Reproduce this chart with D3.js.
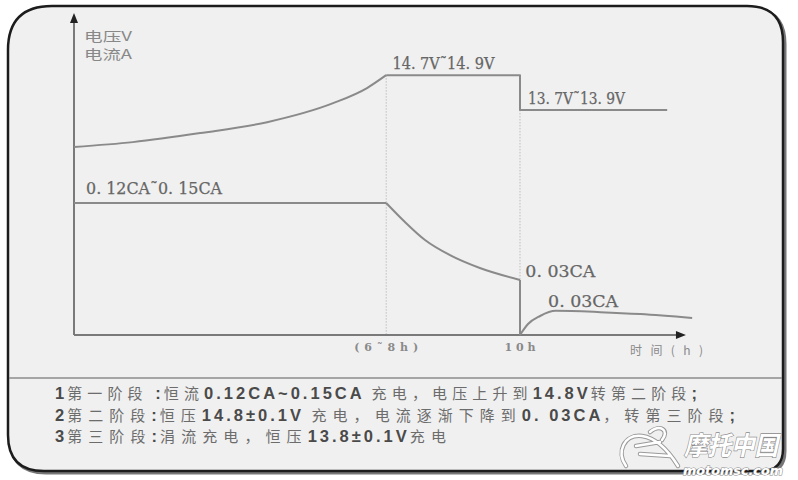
<!DOCTYPE html>
<html><head><meta charset="utf-8">
<script src="https://cdn.jsdelivr.net/npm/d3@7"></script>
<style>
html,body{margin:0;padding:0;background:#fff;}
svg{display:block;}
</style></head>
<body>
<svg id="c" width="798" height="480"></svg>
<script>
// ---- data ----
const voltageRiseT = [0, 1.32, 2.83, 4.33, 5.81, 6.57, 7];
const voltageRiseV = [58.4, 59.9, 62.7, 66.1, 72.0, 76.7, 80.7];
const voltageStepT = [7, 10, 10, 13.3];
const voltageStepV = [80.7, 80.7, 69.9, 69.9];
const currentFlatT = [0, 7];
const currentFlatV = [41, 41];
const currentDecayT = [7, 7.42, 7.87, 8.43, 9.1, 10];
const currentDecayV = [41, 35.1, 29.5, 24.8, 20.8, 17.1];
const currentDropT = [10, 10];
const currentDropV = [17.1, 0];
const trickleT = [10, 10.18, 10.45, 10.8, 11.8, 12.7, 13.86];
const trickleV = [0, 3.4, 5.9, 7.5, 7.1, 6.5, 5.3];
const tickTimes = [7, 10];
const tickLabels = ["(6˜8h)", "10h"];
const seriesLabels = [
  {text: "14. 7V˜14. 9V", t: 7.14, v: 80.7, w: 102, dy: -6},
  {text: "13. 7V˜13. 9V", t: 10.18, v: 69.9, w: 97, dy: -6},
  {text: "0. 12CA˜0. 15CA", t: 0.27, v: 41, w: 136, dy: -9},
  {text: "0. 03CA", t: 10.12, v: 17.1, w: 70, dy: -3},
  {text: "0. 03CA", t: 10.63, v: 7.5, w: 70, dy: -4}
];
const yTitle = ["电压V", "电流A"];
const xTitle = "时间(h)";
const notes = [
  "1第一阶段 :恒流0.12CA~0.15CA 充电，电压上升到14.8V转第二阶段;",
  "2第二阶段:恒压14.8±0.1V 充电，电流逐渐下降到0. 03CA，转第三阶段;",
  "3第三阶段:涓流充电，恒压13.8±0.1V充电"
];

// ---- layout ----
const svg = d3.select("#c");
const x = d3.scaleLinear().domain([0, 10]).range([74, 520]);
const y = d3.scaleLinear().domain([0, 100]).range([335, 13]);

// frame
const L = 8, R = 783, T = 6, B = 471;
function framePath(dx, dy) {
  const rtl = 44, rtr = 36, rbr = 22, rbl = 36;
  const l = L + dx, r = R + dx, t = T + dy, b = B + dy;
  return `M${l + rtl},${t} L${r - rtr},${t} Q${r},${t} ${r},${t + rtr} L${r},${b - rbr} Q${r},${b} ${r - rbr},${b} L${l + rbl},${b} Q${l},${b} ${l},${b - rbl} L${l},${t + rtl} Q${l},${t} ${l + rtl},${t} Z`;
}
svg.append("path").attr("d", framePath(2, 2)).attr("fill", "none").attr("stroke", "#777").attr("stroke-width", 3);
svg.append("path").attr("d", framePath(0, 0)).attr("fill", "#f0f0f0").attr("stroke", "#1c1c1c").attr("stroke-width", 2.5);
svg.append("line").attr("x1", L + 1).attr("x2", R - 1).attr("y1", 378).attr("y2", 378)
  .attr("stroke", "#8c8c8c").attr("stroke-width", 1.6);

const g = svg.append("g");

// dotted guides
const guides = [[7, 80.7], [10, 69.9]];
guides.forEach(([t, v]) => {
  g.append("line").attr("x1", x(t)).attr("x2", x(t)).attr("y1", y(v)).attr("y2", y(0))
    .attr("stroke", "#bdbdbd").attr("stroke-width", 1).attr("stroke-dasharray", "1.5,1.5");
});

// axes
const axisColor = "#7a7a7a";
const xEnd = 13.72;
g.append("line").attr("x1", x(0)).attr("x2", x(xEnd) - 8).attr("y1", y(0)).attr("y2", y(0))
  .attr("stroke", axisColor).attr("stroke-width", 2);
g.append("path").attr("d", `M${x(xEnd)},${y(0)} L${x(xEnd) - 10},${y(0) - 4} L${x(xEnd) - 10},${y(0) + 4} Z`).attr("fill", "#222");
g.append("line").attr("x1", x(0)).attr("x2", x(0)).attr("y1", y(0)).attr("y2", y(100) + 8)
  .attr("stroke", axisColor).attr("stroke-width", 2);
g.append("path").attr("d", `M${x(0)},${y(100)} L${x(0) - 4},${y(100) + 10} L${x(0) + 4},${y(100) + 10} Z`).attr("fill", "#222");

// lines
const lineColor = "#8a8a8a";
function draw(ts, vs, curve) {
  const pts = ts.map((t, i) => [t, vs[i]]);
  g.append("path").datum(pts)
    .attr("d", d3.line().x(d => x(d[0])).y(d => y(d[1])).curve(curve))
    .attr("fill", "none").attr("stroke", lineColor).attr("stroke-width", 2)
    .attr("stroke-linejoin", "round");
}
draw(voltageRiseT, voltageRiseV, d3.curveMonotoneX);
draw(voltageStepT, voltageStepV, d3.curveLinear);
draw(currentFlatT, currentFlatV, d3.curveLinear);
draw(currentDecayT, currentDecayV, d3.curveMonotoneX);
draw(currentDropT, currentDropV, d3.curveLinear);
draw(trickleT, trickleV, d3.curveMonotoneX);

// series labels
const labelFont = "'DejaVu Serif','Liberation Serif',serif";
seriesLabels.forEach(s => {
  g.append("text").attr("x", x(s.t)).attr("y", y(s.v) + s.dy)
    .attr("textLength", s.w).attr("lengthAdjust", "spacingAndGlyphs")
    .attr("font-family", labelFont).attr("font-size", 16).attr("fill", "#666")
    .attr("stroke", "#666").attr("stroke-width", 0.25)
    .text(s.text);
});

// tick labels
tickTimes.forEach((t, i) => {
  g.append("text").attr("x", x(t)).attr("y", 351).attr("text-anchor", "middle")
    .attr("textLength", i === 0 ? 64 : 31).attr("lengthAdjust", "spacing")
    .attr("font-family", labelFont).attr("font-weight", "bold").attr("font-size", 11).attr("fill", "#8a8a8a")
    .text(tickLabels[i]);
});
g.append("text").attr("x", 630).attr("y", 355)
  .attr("textLength", 73).attr("lengthAdjust", "spacing")
  .attr("font-family", "'Noto Sans CJK SC',sans-serif").attr("font-size", 12).attr("fill", "#8a8a8a")
  .text(xTitle);
yTitle.forEach((s, i) => {
  g.append("text").attr("x", 84).attr("y", 41 + i * 18)
    .attr("textLength", 48).attr("lengthAdjust", "spacingAndGlyphs")
    .attr("font-family", "'Noto Sans CJK SC',sans-serif").attr("font-size", 13).attr("fill", "#888")
    .text(s);
});

// notes
const noteWidths = [645, 683, 397];
const noteBase = [399, 421, 442];
notes.forEach((line, i) => {
  const t = svg.append("text").attr("x", 55).attr("y", noteBase[i]);
  const parts = line.match(/[\x20-\x7e±]+|[^\x20-\x7e±]+/g);
  const spans = parts.map(p => {
    const latin = /^[\x20-\x7e±]+$/.test(p);
    const ts = t.append("tspan").text(p)
      .attr("font-family", latin ? "'Liberation Sans',Arial,sans-serif" : "'Noto Sans CJK SC',sans-serif")
      .attr("font-weight", latin ? "bold" : "normal")
      .attr("font-size", latin ? 16.5 : 15)
      .attr("letter-spacing", latin ? 3 : 0)
      .attr("fill", latin ? "#4a4a4a" : "#6c6c6c");
    return {ts, latin, n: p.length};
  });
  const natural = t.node().getComputedTextLength();
  const nCjk = d3.sum(spans.filter(s => !s.latin), s => s.n);
  const extra = Math.max(0, (noteWidths[i] - natural) / nCjk);
  spans.filter(s => !s.latin).forEach(s => s.ts.attr("letter-spacing", extra));
});

// watermark
const wm = svg.append("g");
wm.append("text").attr("x", 684).attr("y", 455).attr("textLength", 94).attr("lengthAdjust", "spacingAndGlyphs")
  .attr("font-family", "'Noto Sans CJK SC',sans-serif").attr("font-weight", "bold").attr("font-style", "italic")
  .attr("font-size", 26).attr("fill", "#fff").attr("stroke", "#8a8a8a").attr("stroke-width", 1.2).attr("paint-order", "stroke")
  .text("摩托中国");
wm.append("text").attr("x", 683).attr("y", 475).attr("textLength", 100).attr("lengthAdjust", "spacingAndGlyphs")
  .attr("font-family", "'DejaVu Sans',sans-serif").attr("font-weight", "bold").attr("font-style", "italic")
  .attr("font-size", 12).attr("fill", "#fff").attr("stroke", "#8a8a8a").attr("stroke-width", 1).attr("paint-order", "stroke")
  .text("motomsc.com");
const logo = "M626,466 C616,452 624,434 642,436 C656,438 668,450 678,466 M636,446 L660,442 M640,454 L670,456 M650,432 C660,424 670,430 662,440";
wm.append("path").attr("d", logo)
  .attr("fill", "none").attr("stroke", "#9a9a9a").attr("stroke-width", 4.5).attr("stroke-linecap", "round");
wm.append("path").attr("d", logo)
  .attr("fill", "none").attr("stroke", "#fff").attr("stroke-width", 2.5).attr("stroke-linecap", "round");
</script>
</body></html>
